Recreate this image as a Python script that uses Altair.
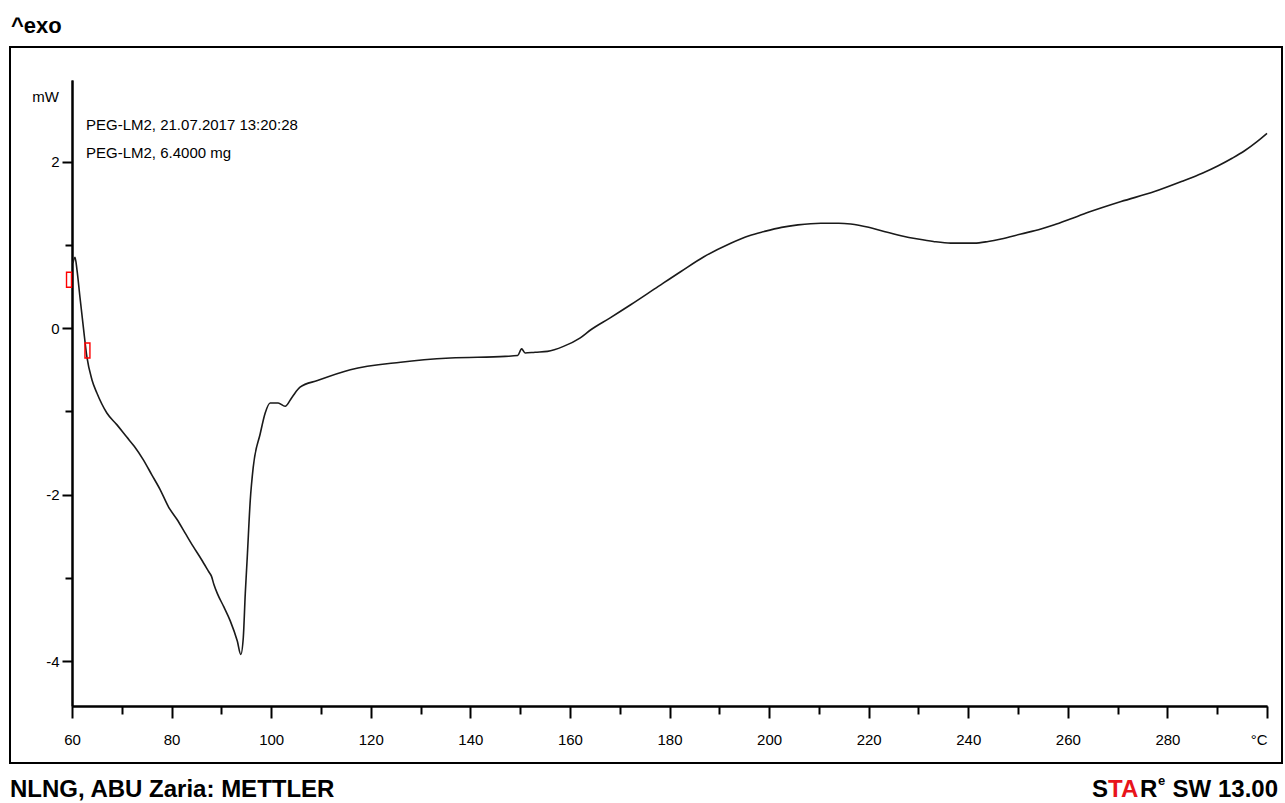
import altair as alt
import pandas as pd

# ---- data ----
temperature = [60.2, 60.6, 61.0, 61.6, 62.3, 63.0, 64.0, 65.0, 67.0, 69.0, 71.0, 72.5,
               74.3, 76.0, 77.7, 79.4, 81.1, 82.7, 84.3, 86.0, 87.5, 88.0, 88.5, 89.2,
               90.5, 91.8, 93.2, 93.9, 94.4, 94.8, 95.2, 95.8, 96.4, 97.8, 98.8, 99.8,
               101.4, 102.8, 104.2, 105.8, 109.3, 115.9, 126.0, 136.0, 147.0, 149.5,
               150.3, 151.0, 153.0, 155.5, 158.7, 162.0, 164.2, 168.0, 172.2, 177.0,
               182.3, 187.0, 192.3, 196.0, 199.0, 202.5, 205.8, 210.4, 214.0, 216.4,
               220.0, 223.1, 226.5, 229.9, 233.0, 236.5, 241.2, 244.0, 246.6, 250.6,
               254.6, 257.3, 260.5, 264.1, 270.7, 277.4, 282.8, 287.0, 290.2, 293.0,
               295.5, 298.0, 300.0]
heat_flow = [0.78, 0.85, 0.70, 0.37, 0.00, -0.35, -0.62, -0.78, -1.02, -1.16, -1.31, -1.42,
             -1.58, -1.76, -1.94, -2.15, -2.30, -2.46, -2.62, -2.78, -2.93, -2.98, -3.08, -3.19,
             -3.35, -3.52, -3.76, -3.92, -3.72, -3.19, -2.75, -2.07, -1.67, -1.27, -1.02, -0.90,
             -0.90, -0.94, -0.83, -0.71, -0.63, -0.50, -0.41, -0.36, -0.34, -0.33,
             -0.25, -0.30, -0.29, -0.28, -0.22, -0.12, -0.02, 0.12, 0.28, 0.47,
             0.68, 0.86, 1.02, 1.11, 1.16, 1.21, 1.24, 1.26, 1.26, 1.25,
             1.21, 1.16, 1.11, 1.07, 1.04, 1.02, 1.02, 1.04, 1.07, 1.13,
             1.19, 1.24, 1.31, 1.39, 1.52, 1.64, 1.76, 1.86, 1.95, 2.04,
             2.13, 2.24, 2.34]

marker_t_start = [58.9, 62.6]
marker_t_end = [59.9, 63.6]
marker_hf_top = [0.67, -0.18]
marker_hf_bottom = [0.49, -0.36]

x_major = [60, 80, 100, 120, 140, 160, 180, 200, 220, 240, 260, 280, 300]
x_minor = [70, 90, 110, 130, 150, 170, 190, 210, 230, 250, 270, 290]
y_major = [-4, -2, 0, 2]
y_minor = [-3, -1, 1]
x_domain = [60, 300]
y_domain = [-4.54, 2.98]

info_lines = ["PEG-LM2, 21.07.2017 13:20:28", "PEG-LM2, 6.4000 mg"]

FONT = "Liberation Sans, Arial, sans-serif"

curve_df = pd.DataFrame({"T": temperature, "HF": heat_flow})
marker_df = pd.DataFrame({"t1": marker_t_start, "t2": marker_t_end,
                          "v1": marker_hf_top, "v2": marker_hf_bottom})

xs = alt.Scale(domain=x_domain, nice=False, zero=False)
ys = alt.Scale(domain=y_domain, nice=False, zero=False)

axis_common = dict(domainColor="black", domainWidth=2, tickColor="black", tickWidth=2,
                   grid=False, labelFont=FONT, labelFontSize=15, labelColor="black",
                   title=None, labelOverlap=False)

line = alt.Chart(curve_df).mark_line(color="#1a1a1a", strokeWidth=1.6,
                                     interpolate="monotone").encode(
    x=alt.X("T:Q", scale=xs, axis=alt.Axis(
        values=x_major, tickSize=12, labelPadding=14, orient="bottom", labelFlush=False,
        labelExpr="datum.value == 300 ? '°C' : toString(datum.value)",
        labelAlign={"condition": {"test": "datum.value == 300", "value": "right"}, "value": "center"},
        **axis_common)),
    y=alt.Y("HF:Q", scale=ys, axis=alt.Axis(
        values=y_major, tickSize=10, labelPadding=3, orient="left",
        labelExpr="toString(datum.value)", **axis_common)),
)

markers = alt.Chart(marker_df).mark_rect(fillOpacity=0, stroke="red", strokeWidth=1.4).encode(
    x=alt.X("t1:Q", scale=xs, axis=alt.Axis(values=x_minor, tickSize=8, labels=False,
                                            orient="bottom", **axis_common)),
    x2="t2:Q",
    y=alt.Y("v1:Q", scale=ys, axis=alt.Axis(values=y_minor, tickSize=7, labels=False,
                                            orient="left", **axis_common)),
    y2="v2:Q",
)

frame = alt.Chart(pd.DataFrame({"a": [0]})).mark_rect(
    fillOpacity=0, stroke="black", strokeWidth=2).encode(
    x=alt.value(-62), x2=alt.value(1210), y=alt.value(-33), y2=alt.value(683))


def label(text, x, y, size, bold=False, align="left", color="black"):
    return alt.Chart(pd.DataFrame({"t": [text]})).mark_text(
        align=align, baseline="alphabetic", font=FONT, fontSize=size,
        fontWeight="bold" if bold else "normal", color=color).encode(
        x=alt.value(x), y=alt.value(y), text="t:N")


texts = [
    label("^exo", -61, -47, 22, bold=True),
    label("mW", -13, 22, 15, align="right"),
    label(info_lines[0], 14, 50, 15),
    label(info_lines[1], 14, 78, 15),
    label("NLNG, ABU Zaria: METTLER", -62, 717, 24, bold=True),
    label("S", 1020, 717, 24, bold=True),
    label("TA", 1036, 717, 24, bold=True, color="#e8141b"),
    label("R", 1068, 717, 24, bold=True),
    label("e", 1086, 705, 13, bold=True),
    label("SW 13.00", 1206, 717, 24, bold=True, align="right"),
]

chart = alt.layer(frame, line, markers, *texts).resolve_axis(
    x="independent", y="independent"
).properties(
    width=1195, height=626,
    padding={"left": 72, "top": 80, "right": 18, "bottom": 97},
    autosize=alt.AutoSizeParams(type="none"),
    background="white",
).configure_view(strokeWidth=0)

chart.save("out.html", embed_options={"renderer": "svg", "actions": False})
